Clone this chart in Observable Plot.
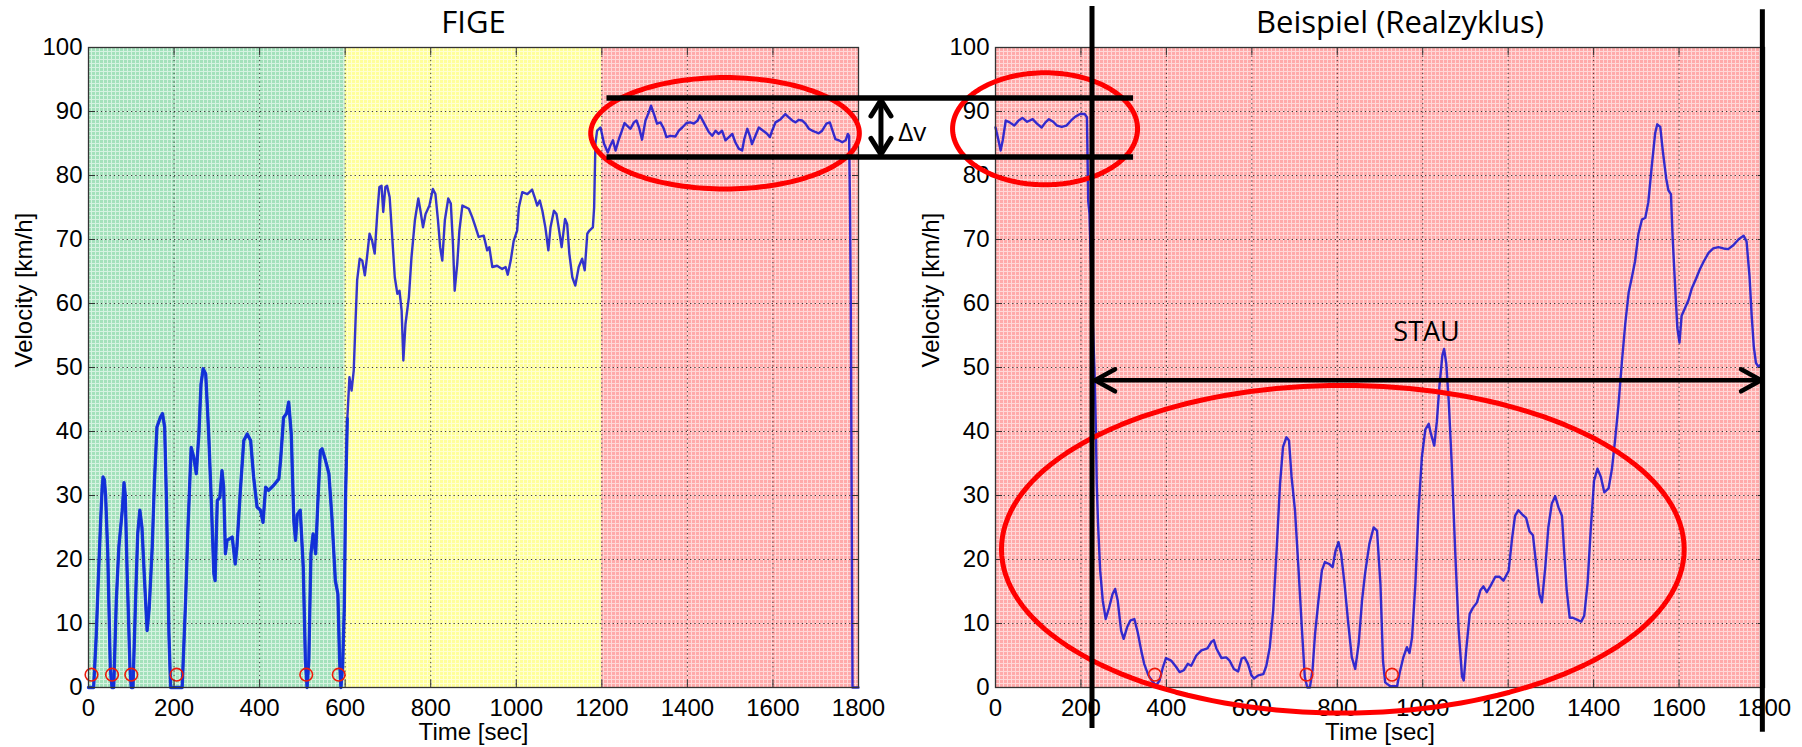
<!DOCTYPE html>
<html>
<head>
<meta charset="utf-8">
<script src="https://cdn.jsdelivr.net/npm/d3@7"></script>
<script src="https://cdn.jsdelivr.net/npm/@observablehq/plot@0.6"></script>
<style>
  html, body { margin: 0; padding: 0; background: #ffffff; }
  #wrap { position: relative; width: 1802px; height: 747px; overflow: hidden; background: #fff; }
  #left { position: absolute; left: 0; top: 0; z-index: 2; }
  #right { position: absolute; left: 900px; top: 0; z-index: 1; }
</style>
</head>
<body>
<svg width="0" height="0" style="position:absolute">
  <defs>
    <pattern id="pat-green" width="4" height="4" patternUnits="userSpaceOnUse">
      <rect width="4" height="4" fill="#d6f3e1"/><rect width="3" height="3" fill="#a3e1bb"/>
    </pattern>
    <pattern id="pat-yellow" width="4" height="4" patternUnits="userSpaceOnUse">
      <rect width="4" height="4" fill="#ffffd2"/><rect width="3" height="3" fill="#ffff9a"/>
    </pattern>
    <pattern id="pat-red" width="4" height="4" patternUnits="userSpaceOnUse">
      <rect width="4" height="4" fill="#ffd8d8"/><rect width="3" height="3" fill="#ffaaaa"/>
    </pattern>
  </defs>
</svg>
<div id="wrap"><div id="left"></div><div id="right"></div></div>
<script>
// ---------- data ----------
const xTicks = [0, 200, 400, 600, 800, 1000, 1200, 1400, 1600, 1800];
const yTicks = [0, 10, 20, 30, 40, 50, 60, 70, 80, 90, 100];

const figeTitle = "FIGE";
const realTitle = "Beispiel (Realzyklus)";
const xLabel = "Time [sec]";
const yLabel = "Velocity [km/h]";

// FIGE cycle phases (urban / rural / motorway)
const figePhaseStart = [0, 600, 1200];
const figePhaseEnd = [600, 1200, 1800];
const figePhaseColor = ["green", "yellow", "red"];
const realPhaseStart = [0];
const realPhaseEnd = [1800];
const realPhaseColor = ["red"];

const figeTime = [0,12,18,24,29,32,34,37,40,45,51,55,59,65,71,79,83,86,90,97,100,104,110,115,120,125,131,137,142,149,154,160,168,173,178,182,188,192,219,227,232,240,246,252,258,263,268,274,281,287,293,296,301,307,312,316,320,324,336,343,347,355,363,371,379,386,394,402,408,414,421,433,445,449,456,463,468,474,480,484,488,495,502,507,511,515,520,525,531,536,542,546,554,562,569,577,583,587,590,594,598,601,605,610,615,620,624,628,634,640,646,651,657,663,669,675,680,685,689,694,698,704,710,716,722,727,732,736,741,749,755,763,771,776,782,788,797,805,811,817,822,827,833,841,847,852,856,862,867,874,889,897,905,912,924,932,937,944,955,967,975,980,987,994,1002,1006,1014,1026,1037,1043,1049,1055,1061,1068,1075,1080,1088,1094,1099,1106,1114,1119,1124,1131,1138,1146,1154,1160,1166,1171,1179,1182,1185,1189,1197,1205,1214,1220,1226,1232,1240,1247,1253,1259,1267,1275,1281,1287,1294,1302,1310,1315,1322,1329,1337,1345,1351,1360,1372,1380,1388,1398,1407,1415,1424,1429,1434,1442,1450,1458,1466,1473,1481,1489,1497,1505,1512,1520,1528,1533,1540,1546,1551,1559,1567,1577,1585,1593,1598,1606,1618,1629,1637,1645,1653,1660,1668,1676,1684,1692,1699,1707,1715,1725,1733,1738,1746,1754,1762,1770,1775,1778,1780,1782,1784,1786,1800];
const figeSpeed = [0,0,8,18.8,27,31.3,32.9,32.5,30,21,3,0,0,13.6,22,27.7,32,30,18.8,3,0,0,13.6,24,27.7,25,16.7,8.9,12.5,22,32,40.7,42.2,42.8,40.7,30,8.4,0,0,13.6,24,37.5,36,33.4,39.6,47.4,49.8,49,39.6,29.2,17.8,16.7,29.2,29.7,33.9,31.3,20.9,23,23.5,19.3,22,30.8,38.6,39.6,38.6,32.9,28.2,27.7,25.8,31.3,30.8,31.6,32.6,35.5,42.2,42.8,44.6,39.6,26,23,27,27.7,18.8,4.2,0,4.2,20.9,24,20.9,28.7,37,37.3,35.5,33.4,26.6,16.7,14.6,4.2,0,3.2,12.5,30,42,48.5,46.4,49.5,56.8,63.6,67,66.7,64.4,67.2,70.9,69.8,67.8,74,78.2,78.4,74.3,78.2,78.4,76.6,70.4,64.1,61.5,62,58.9,51.1,56.8,61,67.2,73,76.4,74.5,71.9,74,75.3,77.9,77.1,73,68.8,66.7,73,76.4,75.6,69.3,62,66.2,71.4,75.3,74.8,73.5,71.9,70.4,70.6,68.3,68.8,65.7,65.9,65.4,65.7,64.5,66.7,69.8,71.4,75,77.4,77.1,77.8,76.6,75.3,76.1,74.5,71.9,68.3,71.9,74.5,74,71.9,68.8,73.2,72.4,67.8,64.1,62.8,65.7,67,65.2,70.9,71.4,71.9,75,85,87,87.5,85,83.6,84.7,85.5,83.9,85.7,87,88.2,87.8,87.3,88.3,88.6,87.5,85.6,88.6,89.9,90.9,89.6,88.1,88.3,87.3,86,86.2,86.1,87,87.5,88.2,88.3,88.1,88.6,89.4,88.8,87.8,86.8,86.2,87,86.5,87,85.5,86,86.5,85.2,84.2,83.9,85.7,87.3,86.2,84.9,86.2,87.5,87,86.6,86,87,88.3,88.8,89.6,89.1,88.6,88.3,88.7,88.6,88.1,87.3,87,86.8,86.6,87,88.1,88.3,87.3,85.7,85.5,85.2,85.5,86.5,86.2,76,60,30,0,0];

const realTime = [0,7,12,17,24,33,44,54,63,74,87,97,108,117,125,135,144,155,166,177,187,198,209,214,217,220,226,232,235,237,240,245,251,258,266,274,280,286,294,300,308,316,325,333,341,348,358,368,376,384,392,399,411,423,431,441,450,458,470,482,496,505,511,517,529,540,548,558,568,576,583,591,599,605,615,627,634,642,650,658,666,673,681,687,693,701,709,717,724,730,736,742,748,756,764,771,781,789,796,803,809,817,825,834,842,850,858,865,875,885,893,901,907,912,924,940,946,955,963,969,975,983,990,998,1006,1014,1019,1027,1033,1039,1046,1050,1055,1061,1068,1076,1084,1092,1096,1102,1110,1117,1127,1135,1142,1150,1158,1170,1180,1189,1201,1209,1216,1224,1232,1242,1250,1258,1266,1273,1279,1287,1294,1302,1310,1318,1326,1331,1337,1344,1351,1361,1371,1378,1386,1393,1401,1409,1417,1425,1435,1443,1450,1458,1466,1474,1482,1489,1497,1505,1513,1521,1528,1536,1544,1549,1556,1562,1570,1575,1581,1585,1591,1596,1601,1606,1614,1622,1630,1640,1649,1658,1669,1680,1692,1704,1715,1727,1739,1751,1758,1765,1770,1775,1780,1786,1790];
const realSpeed = [87.5,85.5,83.9,85.5,88.6,88.3,87.8,88.6,89,88.4,88.8,88.1,87.5,88.3,88.8,88.4,87.8,87.6,87.8,88.6,89.2,89.6,89.6,89.1,76,74,60,49,40.2,31.8,25.6,18.3,13.6,10.7,12.5,14.6,15.4,13.6,8.9,7.6,9.4,10.5,10.7,8.6,5.8,3.7,1.9,0.9,0.3,1.1,3.2,4.6,4.2,3.2,2.4,2.7,3.7,3.4,5,5.8,6.1,7.1,7.4,6.1,4.6,4.7,4.2,2.9,2.5,4.5,4.7,3.7,1.9,1.4,1.9,2.1,3.4,6.3,12,21.4,31.8,37.6,39.1,38.6,32.9,27.7,18.8,9.4,1.6,0,0,2.7,8.4,13.6,18.3,19.6,19.3,18.8,21.4,22.7,20.9,16.2,10.5,4.7,2.9,6.8,13.6,17.8,22.4,25,24.5,16.2,4.2,0.8,0.2,0.2,2.3,4.8,6.3,5.4,7.8,16.4,27.4,36,40.3,41.2,39.7,37.8,41.5,47,51.9,52.9,50.7,44.6,34.8,21.3,9.1,1.7,1.1,6,11.5,12.4,13.3,15.2,15.8,14.9,15.8,17.3,17.3,16.7,18.2,23.2,26.8,27.7,27.1,26.5,24.4,23.8,18.9,14.6,13.3,18.9,25,28.7,29.9,28.1,26.8,21.3,15.2,10.9,10.9,10.6,10.3,11.2,16.4,24.4,32.3,34.2,32.9,30.5,31.1,34.2,38.5,44,50.7,56.8,61.7,63.9,66.6,70.9,73.1,73.4,75.8,81.4,86.6,88,87.6,83.8,79.5,77.7,77.1,70.3,62.4,56.2,53.9,58.1,59.3,60.5,62.4,63.9,65.4,66.6,67.9,68.6,68.8,68.6,68.5,69.1,70,70.6,69.7,64.2,58.1,53.2,50.7,50.1,50.4];

// standstill markers
const figeStopTime = [7, 55, 100, 206, 509, 585];
const realStopTime = [373, 728, 928];
const stopSpeed = 2;

// ---------- annotations (data units of each panel) ----------
const bandTop = 92.1, bandBottom = 82.9, bandFrom = 1212, bandTo = 2443;
const dvLabel = "\u0394v", dvX = 1852.5, dvTip1 = 91.8, dvTip2 = 83.3, dvLabelX = 1893, dvLabelY = 86.7;
const figeEllipse = {cx: 1488, cy: 86.6, rx: 314, ry: 8.7};
const realEllipseSmall = {cx: 116, cy: 87.3, rx: 216.5, ry: 8.75};
const realEllipseBig = {cx: 813, cy: 21.6, rx: 799, ry: 25.6};
const stauLabel = "STAU", stauX1 = 233, stauX2 = 1792, stauY = 48, stauLabelX = 1009, stauLabelY = 55.5;
const markerT = [225.9, 1795], markerTop = [106.4, 105.9], markerBottom = [-6.4, -7];

// ---------- helpers ----------
const rows = (ts, vs) => ts.map((t, i) => ({t, v: vs[i]}));
const phases = (s, e, c) => s.map((x, i) => ({x1: x, x2: e[i], fill: `url(#pat-${c[i]})`}));
function ellipse(e, n = 160) {
  return d3.range(n + 1).map(i => {
    const a = 2 * Math.PI * i / n;
    return {x: e.cx + e.rx * Math.cos(a), y: e.cy + e.ry * Math.sin(a)};
  });
}
function chevron(id, tx, ty, ax, ay) {
  return [{id, x: tx + ax, y: ty + ay}, {id, x: tx, y: ty}, {id, x: tx + ax, y: ty - ay}];
}
function chevronV(id, tx, ty, ax, ay) {
  return [{id, x: tx - ax, y: ty + ay}, {id, x: tx, y: ty}, {id, x: tx + ax, y: ty + ay}];
}

const TICK_FONT = "Liberation Sans, Arial, sans-serif";
const TITLE_FONT = "Open Sans, Noto Sans, sans-serif";
const fmt = d => String(d);

function panel({width, marginLeft, marginRight, title, titleDx, data, phaseRows, stops, thick, extra}) {
  const baseMarks = [
    Plot.rect(phaseRows, {x1: "x1", x2: "x2", y1: () => 0, y2: () => 100, fill: "fill"}),
    Plot.gridX(xTicks.slice(1, -1), {stroke: "#000", strokeOpacity: 0.75, strokeWidth: 1, strokeDasharray: "1.3,3"}),
    Plot.gridY(yTicks.slice(1, -1), {stroke: "#000", strokeOpacity: 0.75, strokeWidth: 1, strokeDasharray: "1.3,3"}),
    Plot.line(data, {x: "t", y: "v", stroke: "#1010d0", strokeOpacity: 0.85, strokeWidth: 2.4, strokeLinejoin: "round"}),
  ];
  if (thick) baseMarks.push(Plot.line(data.filter(d => d.t <= thick), {x: "t", y: "v", stroke: "#1030d8", strokeOpacity: 0.9, strokeWidth: 3.3, strokeLinejoin: "round"}));
  baseMarks.push(
    Plot.dot(stops, {x: d => d, y: () => stopSpeed, r: 6.3, stroke: "#ee1a0a", strokeWidth: 1.6, fill: "none"}),
    Plot.frame({stroke: "#333", strokeWidth: 1.3}),
    Plot.axisX(xTicks, {anchor: "bottom", tickSize: -7, tickPadding: 18, tickFormat: fmt, fontSize: 24, fontFamily: TICK_FONT, label: null, stroke: "#333"}),
    Plot.axisX(xTicks, {anchor: "top", tickSize: -7, fill: "none", label: null, stroke: "#333"}),
    Plot.axisY(yTicks, {anchor: "left", tickSize: -7, tickPadding: 13, tickFormat: fmt, fontSize: 24, fontFamily: TICK_FONT, label: null, stroke: "#333"}),
    Plot.axisY(yTicks, {anchor: "right", tickSize: -7, fill: "none", label: null, stroke: "#333"}),
    Plot.text([title], {text: d => d, frameAnchor: "top", dy: -24, dx: titleDx, fontSize: 31, fontFamily: TITLE_FONT, lineAnchor: "middle", fill: "#000"}),
    Plot.text([xLabel], {text: d => d, frameAnchor: "bottom", dy: 45, fontSize: 24, fontFamily: TICK_FONT, lineAnchor: "middle", fill: "#000"}),
    Plot.text([yLabel], {text: d => d, frameAnchor: "left", dx: -64, rotate: -90, fontSize: 24, fontFamily: TICK_FONT, lineAnchor: "middle", fill: "#000"}),
    ...extra
  );
  return Plot.plot({
    width, height: 747,
    marginLeft, marginRight, marginTop: 47, marginBottom: 60,
    x: {domain: [0, 1800]},
    y: {domain: [0, 100]},
    style: {background: "transparent", overflow: "visible", fontFamily: TICK_FONT, fontSize: "24px", color: "#000"},
    marks: baseMarks
  });
}

const pxL = 1800 / 770, pyL = 100 / 640; // data units per pixel
const pxR = 1800 / 769, pyR = 100 / 640;

const leftExtra = [
  Plot.line(ellipse(figeEllipse), {x: "x", y: "y", stroke: "#ff0000", strokeWidth: 5}),
  Plot.ruleY([bandTop, bandBottom], {x1: () => bandFrom, x2: () => bandTo, stroke: "#000", strokeWidth: 5.5}),
  Plot.ruleX([dvX], {y1: () => dvTip1, y2: () => dvTip2, stroke: "#000", strokeWidth: 5}),
  Plot.line([...chevronV("a", dvX, dvTip1, 10 * pxL, -16 * pyL), ...chevronV("b", dvX, dvTip2, 10 * pxL, 16 * pyL)],
    {x: "x", y: "y", z: "id", stroke: "#000", strokeWidth: 5, strokeLinejoin: "miter", strokeLinecap: "round"}),
  Plot.text([dvLabel], {x: () => dvLabelX, y: () => dvLabelY, text: d => d, textAnchor: "start", fontSize: 26, fontFamily: TITLE_FONT, fill: "#000"})
];

const rightExtra = [
  Plot.line(ellipse(realEllipseSmall), {x: "x", y: "y", stroke: "#ff0000", strokeWidth: 5}),
  Plot.line(ellipse(realEllipseBig), {x: "x", y: "y", stroke: "#ff0000", strokeWidth: 5}),
  Plot.ruleX(markerT.map((t, i) => ({t, top: markerTop[i], bottom: markerBottom[i]})), {x: "t", y1: "bottom", y2: "top", stroke: "#000", strokeWidth: 5}),
  Plot.ruleY([stauY], {x1: () => stauX1, x2: () => stauX2, stroke: "#000", strokeWidth: 4.5}),
  Plot.line([...chevron("l", stauX1, stauY, 20 * pxR, 11 * pyR), ...chevron("r", stauX2, stauY, -20 * pxR, 11 * pyR)],
    {x: "x", y: "y", z: "id", stroke: "#000", strokeWidth: 4.5, strokeLinejoin: "miter", strokeLinecap: "round"}),
  Plot.text([stauLabel], {x: () => stauLabelX, y: () => stauLabelY, text: d => d, fontSize: 27, fontFamily: TITLE_FONT, fill: "#000"})
];

const left = panel({
  width: 900, marginLeft: 88, marginRight: 42, title: figeTitle, titleDx: 0,
  data: rows(figeTime, figeSpeed), phaseRows: phases(figePhaseStart, figePhaseEnd, figePhaseColor),
  stops: figeStopTime, thick: 605, extra: leftExtra
});
const right = panel({
  width: 902, marginLeft: 95, marginRight: 38, title: realTitle, titleDx: 20,
  data: rows(realTime, realSpeed), phaseRows: phases(realPhaseStart, realPhaseEnd, realPhaseColor),
  stops: realStopTime, thick: 0, extra: rightExtra
});
document.getElementById("left").appendChild(left);
document.getElementById("right").appendChild(right);
</script>
</body>
</html>
